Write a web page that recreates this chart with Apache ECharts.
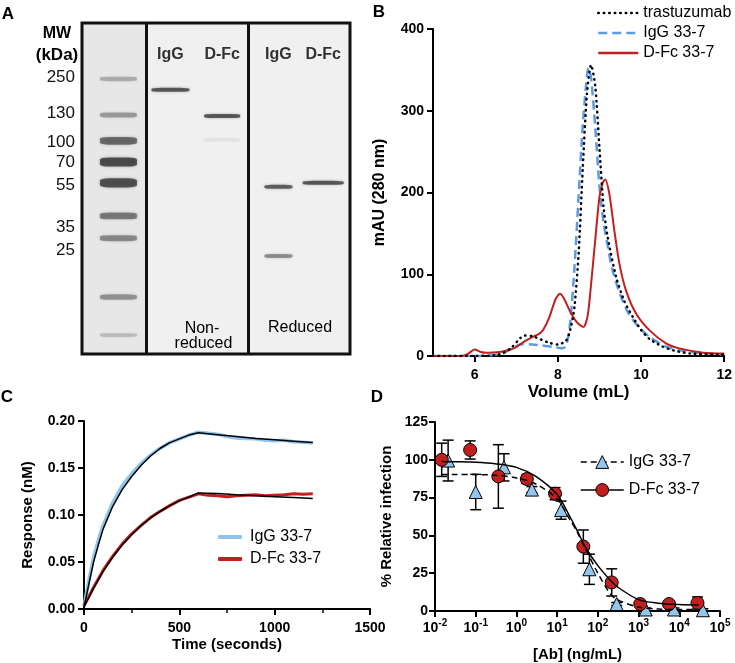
<!DOCTYPE html>
<html>
<head>
<meta charset="utf-8">
<script src="https://cdn.jsdelivr.net/npm/echarts@6/dist/echarts.min.js"></script>
<style>html,body{margin:0;padding:0;background:#fff}#c{width:735px;height:663px}</style>
</head>
<body>
<div id="c"></div>
<script>
// ---------- Panel A: SDS-PAGE gel (positions in % of gel width / height) ----------
const gelLanes = ['Ladder', 'IgG', 'D-Fc', 'IgG', 'D-Fc'];
const gelLanePos = [13.6, 33.0, 52.3, 73.3, 90.0];
const gelDividers = [23.9, 61.9];
const mwLabels = ['250', '130', '100', '70', '55', '35', '25'];
const mwLabelPos = [16.3, 27.2, 35.9, 42.0, 48.9, 61.6, 68.6];
const ladderBandPos = [16.9, 27.8, 35.6, 42.0, 48.3, 58.3, 65.0, 82.8, 94.3];
const ladderBandDensity = [0.3, 0.4, 0.7, 0.9, 0.88, 0.6, 0.5, 0.45, 0.22];
const sampleBandLane = [1, 2, 2, 3, 3, 4];
const sampleBandPos = [20.2, 28.1, 35.3, 49.5, 70.4, 48.3];
const sampleBandDensity = [0.85, 0.85, 0.06, 0.8, 0.5, 0.85];

// ---------- Panel B: SEC traces ----------
const trastX = [5, 6.0, 6.5, 6.7, 6.9, 7.1, 7.2, 7.4, 7.6, 7.8, 8.0, 8.2, 8.3, 8.4, 8.5, 8.6, 8.7, 8.8, 8.9, 9.0, 9.1, 9.2, 9.4, 9.6, 9.8, 10.0, 10.2, 10.5, 10.8, 11.2, 12];
const trastY = [0, 0, 1, 4, 11, 22, 25, 24, 20, 16, 14, 19, 32, 60, 125, 230, 320, 356, 330, 255, 182, 145, 97, 67, 48, 32, 21, 12, 6.5, 3, 1.5];
const igSecX = [5, 6.0, 6.5, 6.7, 6.9, 7.1, 7.3, 7.6, 7.9, 8.1, 8.2, 8.3, 8.4, 8.5, 8.6, 8.7, 8.74, 8.8, 8.9, 9.0, 9.1, 9.2, 9.3, 9.5, 9.7, 9.9, 10.2, 10.6, 11.0, 11.5, 12];
const igSecY = [0, 0, 1.5, 4, 9, 14, 14.5, 13, 11, 9.5, 12, 42, 108, 195, 282, 342, 352, 340, 280, 208, 163, 135, 108, 75, 52, 38, 23.5, 11.5, 6.5, 3.5, 2];
const dfSecX = [5, 5.7, 5.85, 6.0, 6.15, 6.3, 6.6, 6.8, 7.0, 7.2, 7.4, 7.55, 7.65, 7.8, 7.95, 8.05, 8.15, 8.32, 8.48, 8.62, 8.72, 8.8, 8.92, 9.0, 9.08, 9.14, 9.24, 9.36, 9.48, 9.64, 9.88, 10.2, 10.6, 10.92, 11.5, 12];
const dfSecY = [0, 0, 3, 8, 5, 4, 5, 7, 11, 18, 23.5, 27, 32, 48, 70, 76, 70, 52, 40, 35.6, 50, 88, 153, 194, 212, 216, 198, 153, 113, 80, 52, 31.6, 15.4, 9.3, 4, 3];

// ---------- Panel C: binding kinetics ----------
const tFit = [0, 25, 50, 75, 100, 150, 200, 250, 300, 350, 400, 450, 500, 550, 600, 700, 800, 900, 1000, 1100, 1200];
const igFitC = [0.002, 0.026, 0.05, 0.068, 0.085, 0.109, 0.127, 0.141, 0.153, 0.163, 0.171, 0.177, 0.181, 0.185, 0.1875, 0.1855, 0.1835, 0.1815, 0.18, 0.1785, 0.177];
const dfFitC = [0.002, 0.012, 0.022, 0.031, 0.040, 0.055, 0.068, 0.079, 0.089, 0.097, 0.104, 0.110, 0.115, 0.119, 0.1235, 0.1228, 0.1215, 0.1205, 0.1195, 0.1185, 0.1175];
const tData = [0, 25, 50, 75, 100, 150, 200, 250, 300, 350, 400, 450, 500, 550, 600, 650, 700, 750, 800, 850, 900, 950, 1000, 1050, 1100, 1150, 1200];
const igDataC = [0.003, 0.03, 0.055, 0.073, 0.089, 0.113, 0.131, 0.144, 0.155, 0.164, 0.171, 0.177, 0.181, 0.185, 0.188, 0.187, 0.186, 0.1835, 0.182, 0.1815, 0.181, 0.1795, 0.179, 0.1795, 0.178, 0.1775, 0.1765];
const dfDataC = [0.004, 0.013, 0.023, 0.032, 0.041, 0.056, 0.069, 0.080, 0.089, 0.0975, 0.104, 0.110, 0.1155, 0.119, 0.1225, 0.121, 0.1205, 0.1195, 0.1205, 0.121, 0.1215, 0.1205, 0.121, 0.1215, 0.1225, 0.122, 0.1225];

// ---------- Panel D: neutralization ----------
const dfcConc = [0.0146, 0.073, 0.36, 1.8, 8.9, 44, 219, 1100, 5600, 28000];
const dfcResp = [100, 106.5, 89, 87.3, 77.6, 42.6, 18.9, 4.6, 4.6, 5.3];
const dfcErr = [11, 6, 21, 3, 4, 11, 9, 1.5, 1.5, 4];
const igConc = [0.021, 0.1, 0.495, 2.4, 12.5, 62, 290, 1500, 7400, 38000];
const igResp = [99.5, 78.7, 95, 80.3, 66.7, 27.6, 4.6, 1, 1, 0.5];
const igErr = [13.5, 11.7, 9, 2, 6, 10, 1, 1, 1, 1];
const fitConc = [0.0146, 0.03, 0.1, 0.3, 1, 3, 10, 20, 30, 50, 100, 200, 300, 1000, 3000, 10000, 30000];
const dfcFit = [98.8, 98.7, 98.4, 97.4, 95, 89, 77, 63, 54, 42, 30, 20.5, 16, 7.5, 5.2, 4.3, 4.0];
const igFit = [90.3, 90.3, 90.2, 89.8, 88, 84, 74, 61, 53, 41, 25, 11.5, 7.5, 2.5, 1.3, 1.0, 1.0];

// ---------- build ----------
const FONT = "'Liberation Sans', Arial, Helvetica, sans-serif";
const RED = '#c1201f', BLUE_DASH = '#5b9be0', BLUE_LIGHT = '#8fc6ea', TRI = '#93c6ee';
const zip = (xs, ys) => xs.map((x, i) => [x, ys[i]]);
const BAND_W = [37, 38, 36, 28, 41];

const gelData = ladderBandPos.map((p, i) => [gelLanePos[0], p, ladderBandDensity[i], 0])
  .concat(sampleBandPos.map((p, i) => [gelLanePos[sampleBandLane[i]], p, sampleBandDensity[i], sampleBandLane[i]]));

const axisCommon = {
  axisLine: { show: true, lineStyle: { color: '#000', width: 2 } },
  axisTick: { show: true, length: 6, lineStyle: { color: '#000', width: 2 } },
  splitLine: { show: false },
  nameLocation: 'middle',
  nameTextStyle: { fontFamily: FONT, fontWeight: 'bold', fontSize: 15, color: '#000' }
};
const lab = (extra) => Object.assign({ color: '#000', fontFamily: FONT, fontWeight: 'bold', fontSize: 14 }, extra || {});

function errRender(params, api) {
  const x = api.value(0);
  const pLo = api.coord([x, Math.max(0, api.value(1))]);
  const pHi = api.coord([x, api.value(2)]);
  const w = 5.5;
  const style = { stroke: '#000', lineWidth: 1.5, fill: null };
  return {
    type: 'group', children: [
      { type: 'line', shape: { x1: pLo[0], y1: pLo[1], x2: pHi[0], y2: pHi[1] }, style },
      { type: 'line', shape: { x1: pHi[0] - w, y1: pHi[1], x2: pHi[0] + w, y2: pHi[1] }, style },
      { type: 'line', shape: { x1: pLo[0] - w, y1: pLo[1], x2: pLo[0] + w, y2: pLo[1] }, style }
    ]
  };
}

function txt(text, x, y, size, bold, align) {
  return {
    type: 'text', x: x, y: y, silent: true,
    style: { text: text, fill: '#000', font: (bold ? 'bold ' : '') + size + 'px ' + FONT,
      textAlign: align || 'center', textVerticalAlign: 'middle', align: align || 'center', verticalAlign: 'middle' }
  };
}

const option = {
  animation: false,
  textStyle: { fontFamily: FONT },
  grid: [
    { left: 82, top: 23, width: 268, height: 331, show: true, backgroundColor: '#f0f0f0', borderColor: '#111', borderWidth: 3 },
    { left: 433, top: 29, width: 292, height: 327 },
    { left: 84, top: 421, width: 286, height: 188 },
    { left: 435, top: 422, width: 285, height: 190 }
  ],
  xAxis: [
    { gridIndex: 0, type: 'value', min: 0, max: 100, show: false },
    Object.assign({}, axisCommon, {
      gridIndex: 1, type: 'value', min: 5, max: 12, name: 'Volume (mL)', nameGap: 28,
      nameTextStyle: Object.assign({}, axisCommon.nameTextStyle, { fontSize: 17 }),
      axisTick: Object.assign({}, axisCommon.axisTick, { customValues: [6, 8, 10, 12] }),
      axisLabel: lab({ customValues: [6, 8, 10, 12], margin: 12 })
    }),
    Object.assign({}, axisCommon, {
      gridIndex: 2, type: 'value', min: 0, max: 1500, interval: 500, name: 'Time (seconds)', nameGap: 28,
      minorTick: { show: true, splitNumber: 2, length: 4, lineStyle: { color: '#000', width: 1.5 } },
      axisLabel: lab({ margin: 12, formatter: (v) => String(v) })
    }),
    Object.assign({}, axisCommon, {
      gridIndex: 3, type: 'log', logBase: 10, min: 0.01, max: 100000, name: '[Ab] (ng/mL)', nameGap: 36,
      axisLabel: {
        margin: 7,
        formatter: (v) => '{b|10}{s|' + Math.round(Math.log10(v)) + '}',
        rich: {
          b: { color: '#000', fontFamily: FONT, fontWeight: 'bold', fontSize: 14, lineHeight: 20 },
          s: { color: '#000', fontFamily: FONT, fontWeight: 'bold', fontSize: 10, lineHeight: 10, verticalAlign: 'top' }
        }
      }
    })
  ],
  yAxis: [
    {
      gridIndex: 0, type: 'value', min: 0, max: 100, inverse: true,
      axisLine: { show: false }, axisTick: { show: false }, splitLine: { show: false },
      axisLabel: {
        customValues: mwLabelPos, margin: 7, color: '#111', fontFamily: FONT, fontSize: 17,
        formatter: (v) => { const i = mwLabelPos.findIndex(p => Math.abs(p - v) < 0.01); return i >= 0 ? mwLabels[i] : ''; }
      }
    },
    Object.assign({}, axisCommon, {
      gridIndex: 1, type: 'value', min: 0, max: 400, interval: 100, name: 'mAU (280 nm)', nameGap: 45,
      nameTextStyle: Object.assign({}, axisCommon.nameTextStyle, { fontSize: 16 }),
      axisLabel: lab({ margin: 9 })
    }),
    Object.assign({}, axisCommon, {
      gridIndex: 2, type: 'value', min: 0, max: 0.2, interval: 0.05, name: 'Response (nM)', nameGap: 49,
      axisLabel: lab({ margin: 9, formatter: (v) => v.toFixed(2) })
    }),
    Object.assign({}, axisCommon, {
      gridIndex: 3, type: 'value', min: 0, max: 125, interval: 25, name: '% Relative infection', nameGap: 41,
      axisLabel: lab({ margin: 7 })
    })
  ],
  legend: [
    {
      data: [
        { name: 'B:trastuzumab', lineStyle: { color: '#000', width: 2.5, type: [0.5, 5], cap: 'round' } },
        { name: 'B:IgG 33-7', lineStyle: { color: BLUE_DASH, width: 2.5, type: [9, 5] } },
        { name: 'B:D-Fc 33-7', lineStyle: { color: RED, width: 2.5, type: 'solid' } }
      ],
      orient: 'vertical', left: 592, top: 0, itemWidth: 40, itemHeight: 14, itemGap: 4, selectedMode: false,
      itemStyle: { opacity: 0 },
      formatter: (n) => n.slice(2),
      textStyle: { fontFamily: FONT, fontSize: 16, lineHeight: 16, color: '#000' }
    },
    {
      data: [
        { name: 'C:IgG 33-7', icon: 'roundRect', itemStyle: { color: BLUE_LIGHT } },
        { name: 'C:D-Fc 33-7', icon: 'roundRect', itemStyle: { color: RED } }
      ],
      orient: 'vertical', left: 213, top: 524, itemWidth: 24, itemHeight: 4, itemGap: 6, selectedMode: false,
      formatter: (n) => n.slice(2),
      textStyle: { fontFamily: FONT, fontSize: 16, lineHeight: 16, color: '#000', padding: [0, 0, 0, 3] }
    },
    {
      data: [
        { name: 'D:IgG 33-7', itemStyle: { color: TRI, borderColor: '#000', borderWidth: 1 }, lineStyle: { color: '#000', width: 1.5, type: [6, 4] } },
        { name: 'D:D-Fc 33-7', itemStyle: { color: RED, borderColor: '#000', borderWidth: 1 }, lineStyle: { color: '#000', width: 1.5, type: 'solid' } }
      ],
      orient: 'vertical', left: 575, top: 449, itemWidth: 43, itemHeight: 16, itemGap: 12, selectedMode: false,
      formatter: (n) => n.slice(2),
      textStyle: { fontFamily: FONT, fontSize: 16, lineHeight: 16, color: '#000' }
    }
  ],
  graphic: [
    txt('A', 8, 14, 17, true), txt('B', 379, 12, 17, true), txt('C', 7, 397, 17, true), txt('D', 377, 397, 17, true),
    txt('MW', 57, 34, 16, true), txt('(kDa)', 57, 55, 17, true),
    txt('Non-', 202, 329, 16, false), txt('reduced', 203.5, 344, 16, false), txt('Reduced', 300, 328, 16, false)
  ],
  series: [
    // ----- gel -----
    {
      type: 'scatter', xAxisIndex: 0, yAxisIndex: 0, silent: true, z: 3,
      data: gelData, symbol: 'roundRect',
      symbolSize: (v) => [BAND_W[v[3]], v[3] === 0 ? 2 + 8 * v[2] : 4],
      itemStyle: { color: (p) => 'rgba(35,35,35,' + p.value[2] + ')', shadowBlur: 3, shadowColor: 'rgba(35,35,35,0.45)' },
      markArea: { silent: true, itemStyle: { color: 'rgba(0,0,0,0.035)' }, data: [[{ xAxis: 0 }, { xAxis: 23.9 }]] },
      markLine: {
        silent: true, symbol: ['none', 'none'], label: { show: false },
        lineStyle: { color: '#111', width: 3, type: 'solid' },
        data: gelDividers.map(x => ({ xAxis: x }))
      }
    },
    {
      type: 'scatter', xAxisIndex: 0, yAxisIndex: 0, silent: true, symbolSize: 1,
      itemStyle: { color: 'rgba(0,0,0,0)' },
      data: gelLanes.slice(1).map((n, i) => ({ value: [gelLanePos[i + 1], 9.4], name: n })),
      label: { show: true, position: 'inside', formatter: (p) => p.name, color: '#000', fontFamily: FONT, fontWeight: 'bold', fontSize: 16 }
    },
    // ----- B -----
    { name: 'B:IgG 33-7', type: 'line', xAxisIndex: 1, yAxisIndex: 1, data: zip(igSecX, igSecY), symbol: 'none', smooth: 0.25,
      lineStyle: { color: BLUE_DASH, width: 2.5, type: [9, 5] }, itemStyle: { color: BLUE_DASH } },
    { name: 'B:D-Fc 33-7', type: 'line', xAxisIndex: 1, yAxisIndex: 1, data: zip(dfSecX, dfSecY), symbol: 'none', smooth: 0.25,
      lineStyle: { color: RED, width: 2 }, itemStyle: { color: RED } },
    { name: 'B:trastuzumab', type: 'line', xAxisIndex: 1, yAxisIndex: 1, data: zip(trastX, trastY), symbol: 'none', smooth: 0.25,
      lineStyle: { color: '#000', width: 2.5, type: [0.5, 5], cap: 'round' }, itemStyle: { color: '#000' } },
    // ----- C -----
    { name: 'C:IgG 33-7', type: 'line', xAxisIndex: 2, yAxisIndex: 2, data: zip(tData, igDataC), symbol: 'none',
      lineStyle: { color: BLUE_LIGHT, width: 3.5 }, itemStyle: { color: BLUE_LIGHT } },
    { name: 'C:D-Fc 33-7', type: 'line', xAxisIndex: 2, yAxisIndex: 2, data: zip(tData, dfDataC), symbol: 'none',
      lineStyle: { color: RED, width: 3 }, itemStyle: { color: RED } },
    { name: 'C:fit IgG', type: 'line', xAxisIndex: 2, yAxisIndex: 2, data: zip(tFit, igFitC), symbol: 'none',
      lineStyle: { color: '#000', width: 1.5 }, itemStyle: { color: '#000' } },
    { name: 'C:fit D-Fc', type: 'line', xAxisIndex: 2, yAxisIndex: 2, data: zip(tFit, dfFitC), symbol: 'none',
      lineStyle: { color: '#000', width: 1.5 }, itemStyle: { color: '#000' } },
    // ----- D -----
    { name: 'D:IgG 33-7', type: 'line', xAxisIndex: 3, yAxisIndex: 3, data: zip(fitConc, igFit), symbol: 'triangle', showSymbol: false, smooth: 0.3,
      lineStyle: { color: '#000', width: 1.5, type: [6, 4] }, itemStyle: { color: TRI, borderColor: '#000', borderWidth: 1 } },
    { name: 'D:D-Fc 33-7', type: 'line', xAxisIndex: 3, yAxisIndex: 3, data: zip(fitConc, dfcFit), symbol: 'circle', showSymbol: false, smooth: 0.3,
      lineStyle: { color: '#000', width: 1.5 }, itemStyle: { color: RED, borderColor: '#000', borderWidth: 1 } },
    { name: 'D:err IgG', type: 'custom', xAxisIndex: 3, yAxisIndex: 3, renderItem: errRender, silent: true,
      encode: { x: 0, y: [1, 2] }, data: igConc.map((c, i) => [c, igResp[i] - igErr[i], igResp[i] + igErr[i]]) },
    { name: 'D:err D-Fc', type: 'custom', xAxisIndex: 3, yAxisIndex: 3, renderItem: errRender, silent: true,
      encode: { x: 0, y: [1, 2] }, data: dfcConc.map((c, i) => [c, dfcResp[i] - dfcErr[i], dfcResp[i] + dfcErr[i]]) },
    { name: 'D:pts IgG', type: 'scatter', xAxisIndex: 3, yAxisIndex: 3, data: zip(igConc, igResp), symbol: 'triangle', symbolSize: 13,
      itemStyle: { color: TRI, borderColor: '#000', borderWidth: 1, opacity: 1 } },
    { name: 'D:pts D-Fc', type: 'scatter', xAxisIndex: 3, yAxisIndex: 3, data: zip(dfcConc, dfcResp), symbol: 'circle', symbolSize: 13,
      itemStyle: { color: RED, borderColor: '#000', borderWidth: 1, opacity: 1 } }
  ]
};

const chart = echarts.init(document.getElementById('c'), null, { renderer: 'canvas' });
chart.setOption(option);
</script>
</body>
</html>
